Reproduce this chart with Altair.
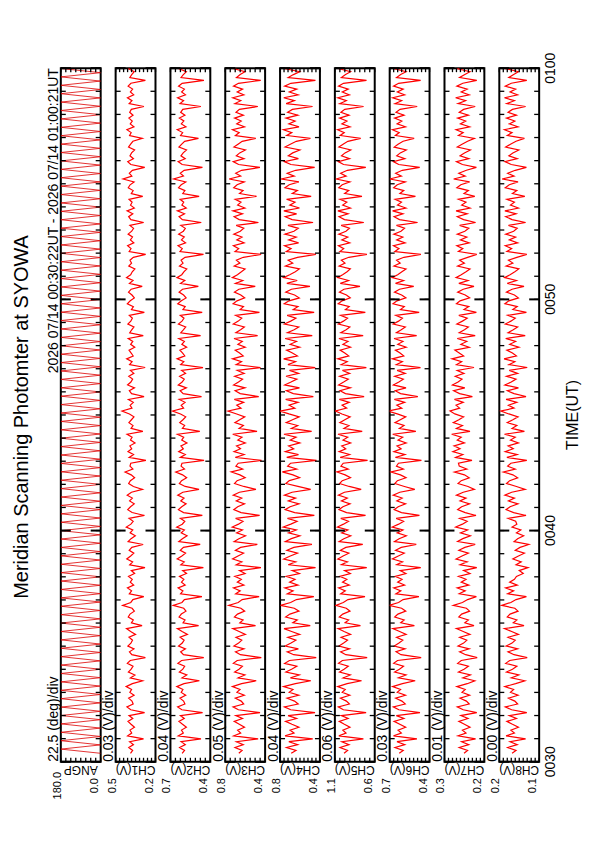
import altair as alt
import numpy as np
import pandas as pd

# ---------------- data ----------------
T_START = 30 + 22 / 60   # 00:30:22 UT, minutes after 00:00
T_END = 60 + 21 / 60     # 01:00:21 UT

names = ["ANGP", "CH1(V)", "CH2(V)", "CH3(V)", "CH4(V)", "CH5(V)", "CH6(V)", "CH7(V)", "CH8(V)"]
div_labels = ["22.5 (deg)/div", "0.03 (V)/div", "0.04 (V)/div", "0.05 (V)/div", "0.04 (V)/div",
              "0.06 (V)/div", "0.03 (V)/div", "0.01 (V)/div", "0.00 (V)/div"]
max_labels = ["180.0", "0.5", "0.7", "0.8", "0.8", "1.1", "0.7", "0.3", "0.2"]
min_labels = ["0.0", "0.2", "0.4", "0.4", "0.4", "0.6", "0.4", "0.2", "0.1"]
dom_lo = [0.0, 0.2, 0.4, 0.4, 0.4, 0.6, 0.4, 0.2, 0.1]
dom_hi = [180.0, 0.5, 0.7, 0.8, 0.8, 1.1, 0.7, 0.3, 0.2]
n_div = [8, 10, 8, 8, 10, 8, 10, 10, 10]
time_ticks = [30, 40, 50, 60]
time_labels = ["0030", "0040", "0050", "0100"]
title_text = "Meridian Scanning Photomter at SYOWA"
range_text = "2026 07/14 00:30:22UT - 2026 07/14 01:00:21UT"
axis_title = "TIME(UT)"

angp = [0, 180, 0, 180, 0, 180, 0, 180, 0, 180, 0, 180, 0, 180, 0, 180, 0, 180, 0, 180,
        0, 180, 0, 180, 0, 180, 0, 180, 0, 180, 0, 180, 0, 180, 0, 180, 0, 180, 0, 180,
        0, 180, 0, 180, 0, 180, 0, 180, 0, 180, 0, 180, 0, 180, 0, 180, 0, 180, 0, 180,
        0, 180, 0, 180, 0, 180, 0, 180, 0, 180, 0, 180, 0, 180, 0, 180, 0, 180, 0, 180,
        0, 180, 0, 180, 0, 180, 0, 180, 0, 180, 0, 180, 0, 180, 0, 180, 0, 180, 0, 180,
        0, 180, 0, 180, 0, 180, 0, 180, 0, 180, 0, 180, 0, 180, 0, 180, 0, 180, 0, 180,
        0, 180, 0, 180, 0, 180, 0, 180, 0, 180, 0, 180, 0, 180, 0, 180, 0, 180, 0, 180,
        0, 180, 0, 180, 0, 180, 0, 180, 0, 180, 0, 180, 0, 180, 0, 180, 0, 180, 0, 180,
        0, 180, 0, 180, 0, 180]

ch1_mv = [388, 372, 401, 366, 395, 290, 410, 379, 392, 358, 384, 407, 371, 399, 282, 386, 415, 368, 377, 402,
          361, 393, 380, 421, 374, 297, 389, 355, 404, 383, 369, 412, 390, 276, 378, 396, 362, 408, 385, 373,
          399, 350, 387, 418, 301, 381, 367, 405, 392, 359, 376, 447, 386, 370, 288, 397, 380, 411, 364, 390,
          375, 403, 357, 382, 279, 394, 372, 416, 387, 363, 398, 378, 293, 406, 384, 352, 391, 371, 420, 385,
          368, 399, 283, 376, 409, 388, 360, 395, 374, 413, 381, 298, 366, 402, 389, 357, 383, 429, 370, 392,
          386, 272, 398, 365, 407, 379, 393, 354, 388, 376, 414, 295, 384, 369, 400, 381, 362, 396, 452, 377,
          391, 367, 404, 286, 380, 397, 358, 410, 385, 372, 401, 363, 389, 278, 395, 376, 417, 368, 383, 399,
          356, 387, 371, 405, 292, 394, 379, 362, 408, 386, 374, 397, 284, 381, 366, 412, 390, 359, 377, 403,
          383, 300, 396, 369, 418, 387, 375, 355, 401, 380, 392, 367, 274, 398, 384, 410, 363, 389, 373, 406,
          379, 365, 393, 289, 385, 402, 371, 414, 359, 388, 376, 399, 296, 382, 368, 405, 391, 361, 444, 378,
          397, 374, 281, 386, 409, 366, 392, 380, 357, 403, 387, 370, 299, 395, 383, 415, 362, 390, 375, 400,
          369, 394, 382, 287, 398, 377, 411, 364, 389, 372, 406, 385, 276, 393, 379, 360, 402, 386, 371, 396]
ch2_mv = [612, 594, 631, 588, 620, 470, 641, 603, 617, 580, 609, 636, 596, 625, 458, 614, 646, 591, 601, 628,
          585, 619, 606, 652, 598, 482, 613, 577, 633, 607, 593, 644, 616, 449, 602, 623, 587, 639, 611, 597,
          627, 572, 612, 648, 488, 605, 590, 635, 618, 583, 600, 679, 613, 595, 463, 624, 606, 642, 589, 617,
          599, 632, 579, 608, 452, 622, 596, 649, 614, 586, 626, 602, 476, 637, 610, 575, 619, 595, 653, 611,
          592, 625, 460, 601, 640, 615, 582, 622, 598, 645, 607, 485, 589, 633, 616, 578, 609, 660, 594, 620,
          613, 447, 626, 588, 638, 603, 621, 576, 615, 600, 647, 479, 610, 593, 630, 606, 585, 624, 684, 601,
          619, 590, 634, 466, 604, 627, 580, 641, 612, 596, 631, 586, 616, 455, 623, 599, 650, 592, 608, 629,
          578, 614, 595, 637, 473, 622, 603, 585, 640, 613, 598, 626, 461, 606, 589, 645, 618, 582, 601, 635,
          609, 490, 624, 592, 651, 615, 599, 577, 632, 605, 620, 590, 451, 628, 611, 643, 586, 617, 596, 638,
          603, 588, 622, 468, 610, 635, 594, 648, 581, 614, 600, 627, 484, 607, 591, 639, 619, 584, 676, 602,
          626, 597, 459, 612, 642, 589, 621, 604, 579, 636, 615, 593, 489, 624, 608, 649, 583, 618, 599, 633,
          591, 623, 607, 471, 628, 601, 646, 587, 616, 595, 639, 612, 448, 620, 603, 580, 634, 613, 594, 625]
ch3_mv = [664, 631, 702, 619, 688, 470, 715, 645, 676, 607, 659, 710, 627, 694, 451, 668, 722, 615, 640, 699,
          609, 683, 652, 728, 636, 489, 671, 603, 706, 662, 628, 719, 680, 438, 648, 697, 612, 713, 666, 634,
          692, 598, 661, 724, 496, 654, 621, 708, 677, 605, 643, 765, 670, 630, 460, 695, 650, 717, 613, 679,
          639, 704, 601, 657, 442, 690, 633, 726, 672, 616, 698, 646, 478, 711, 663, 597, 686, 628, 730, 667,
          622, 696, 455, 641, 714, 675, 606, 689, 635, 720, 658, 492, 614, 707, 681, 600, 653, 740, 625, 693,
          670, 436, 699, 611, 712, 647, 687, 599, 674, 632, 725, 481, 661, 618, 703, 655, 604, 685, 772, 642,
          684, 615, 709, 464, 650, 701, 602, 716, 667, 626, 705, 610, 679, 446, 691, 637, 727, 620, 656, 700,
          600, 673, 629, 712, 475, 693, 646, 608, 719, 669, 634, 696, 457, 651, 617, 721, 682, 605, 644, 708,
          663, 499, 697, 624, 729, 678, 638, 601, 710, 653, 688, 619, 440, 702, 665, 718, 611, 684, 632, 714,
          649, 614, 690, 467, 660, 711, 627, 723, 603, 676, 642, 700, 486, 657, 621, 715, 681, 609, 761, 645,
          695, 636, 452, 666, 720, 612, 689, 655, 598, 713, 672, 630, 494, 698, 660, 727, 607, 685, 640, 706,
          618, 692, 658, 473, 703, 644, 724, 613, 680, 626, 717, 668, 444, 687, 650, 602, 709, 671, 633, 699]
ch4_mv = [688, 640, 735, 622, 712, 472, 750, 660, 700, 611, 681, 745, 634, 720, 449, 693, 757, 618, 655, 730,
          613, 708, 670, 765, 646, 491, 696, 607, 742, 685, 632, 754, 706, 437, 663, 728, 616, 748, 690, 641,
          722, 603, 684, 760, 497, 672, 627, 744, 701, 610, 657, 795, 694, 636, 461, 727, 669, 752, 620, 704,
          650, 739, 606, 678, 444, 718, 642, 763, 697, 624, 731, 662, 480, 747, 687, 601, 715, 637, 768, 692,
          629, 726, 456, 653, 749, 699, 609, 717, 644, 756, 680, 493, 621, 741, 707, 604, 671, 777, 633, 724,
          695, 434, 733, 615, 747, 664, 714, 602, 698, 639, 761, 483, 686, 623, 738, 675, 608, 711, 800, 652,
          709, 619, 744, 466, 667, 736, 605, 753, 690, 631, 740, 614, 705, 447, 721, 645, 764, 626, 676, 734,
          604, 699, 635, 749, 477, 725, 659, 612, 756, 693, 641, 729, 458, 668, 620, 758, 710, 607, 654, 743,
          686, 500, 732, 628, 766, 703, 647, 606, 746, 673, 719, 625, 441, 737, 689, 755, 614, 713, 638, 751,
          661, 617, 721, 469, 679, 748, 634, 762, 605, 702, 650, 735, 488, 677, 626, 751, 708, 611, 790, 658,
          728, 643, 453, 691, 757, 616, 717, 673, 601, 750, 697, 637, 495, 733, 682, 766, 610, 712, 649, 741,
          622, 724, 676, 474, 739, 656, 763, 618, 707, 632, 754, 692, 445, 718, 666, 603, 745, 696, 639, 736]
ch5_mv = [985, 940, 1035, 922, 1012, 742, 1050, 960, 1000, 911, 981, 1045, 934, 1020, 708, 993, 1057, 918, 955, 1030,
          913, 1008, 970, 1065, 946, 765, 996, 907, 1042, 985, 932, 1054, 1006, 695, 963, 1028, 916, 1048, 990, 941,
          1022, 903, 984, 1060, 779, 972, 927, 1044, 1001, 910, 957, 1088, 994, 936, 722, 1027, 969, 1052, 920, 1004,
          950, 1039, 906, 978, 700, 1018, 942, 1063, 997, 924, 1031, 962, 750, 1047, 987, 901, 1015, 937, 1068, 992,
          929, 1026, 715, 953, 1049, 999, 909, 1017, 944, 1056, 980, 770, 921, 1041, 1007, 904, 971, 1075, 933, 1024,
          995, 690, 1033, 915, 1047, 964, 1014, 902, 998, 939, 1061, 757, 986, 923, 1038, 975, 908, 1011, 1092, 952,
          1009, 919, 1044, 733, 967, 1036, 905, 1053, 990, 931, 1040, 914, 1005, 705, 1021, 945, 1064, 926, 976, 1034,
          904, 999, 935, 1049, 745, 1025, 959, 912, 1056, 993, 941, 1029, 718, 968, 920, 1058, 1010, 907, 954, 1043,
          986, 785, 1032, 928, 1066, 1003, 947, 906, 1046, 973, 1019, 925, 698, 1037, 989, 1055, 914, 1013, 938, 1051,
          961, 917, 1021, 737, 979, 1048, 934, 1062, 905, 1002, 950, 1035, 760, 977, 926, 1051, 1008, 911, 1085, 958,
          1028, 943, 712, 991, 1057, 916, 1017, 973, 901, 1050, 997, 937, 776, 1033, 982, 1066, 910, 1012, 949, 1041,
          922, 1024, 976, 740, 1039, 956, 1063, 918, 1007, 932, 1054, 992, 703, 1018, 966, 903, 1045, 996, 939, 1036]
ch6_mv = [628, 598, 660, 586, 645, 495, 671, 612, 637, 580, 624, 667, 593, 650, 472, 631, 673, 583, 608, 655,
          581, 643, 618, 678, 604, 508, 634, 577, 663, 627, 596, 670, 641, 463, 615, 652, 584, 665, 630, 601,
          648, 576, 625, 676, 514, 617, 591, 662, 638, 579, 610, 705, 633, 599, 480, 653, 616, 669, 588, 640,
          607, 659, 578, 621, 466, 647, 603, 679, 635, 590, 656, 613, 500, 664, 629, 575, 644, 600, 681, 632,
          595, 651, 476, 611, 666, 636, 580, 646, 606, 674, 624, 511, 589, 661, 642, 577, 619, 690, 597, 649,
          634, 461, 657, 585, 668, 614, 645, 576, 637, 602, 677, 503, 627, 592, 660, 620, 579, 643, 712, 609,
          646, 587, 665, 488, 618, 658, 577, 672, 631, 597, 662, 583, 644, 468, 650, 605, 680, 594, 622, 657,
          576, 639, 600, 667, 497, 649, 613, 582, 673, 633, 604, 654, 478, 619, 590, 675, 645, 578, 610, 664,
          626, 519, 656, 595, 682, 640, 608, 577, 668, 621, 648, 593, 465, 661, 630, 671, 584, 647, 601, 669,
          615, 588, 649, 490, 626, 667, 600, 678, 578, 641, 611, 659, 506, 623, 594, 670, 643, 582, 700, 612,
          655, 605, 474, 632, 672, 586, 647, 620, 575, 666, 637, 599, 516, 657, 628, 679, 581, 644, 609, 663,
          592, 652, 622, 493, 660, 610, 677, 587, 642, 598, 671, 633, 467, 648, 617, 576, 664, 636, 603, 658]
ch7_mv = [251, 242, 263, 239, 257, 222, 266, 246, 255, 236, 250, 264, 241, 259, 219, 253, 268, 238, 245, 261,
          237, 256, 248, 269, 243, 224, 254, 235, 265, 251, 240, 267, 258, 218, 247, 262, 238, 266, 252, 244,
          262, 236, 253, 270, 226, 249, 240, 264, 257, 237, 245, 278, 255, 242, 220, 263, 248, 268, 239, 258,
          246, 265, 236, 252, 219, 261, 243, 271, 256, 240, 264, 249, 223, 267, 254, 235, 260, 242, 272, 255,
          243, 262, 221, 248, 267, 257, 237, 261, 246, 270, 253, 225, 241, 266, 258, 238, 250, 275, 244, 263,
          265, 231, 272, 254, 279, 261, 276, 250, 268, 258, 282, 236, 270, 255, 278, 264, 252, 274, 286, 262,
          271, 253, 275, 230, 262, 277, 249, 280, 266, 256, 273, 251, 268, 226, 270, 257, 281, 252, 263, 274,
          238, 259, 244, 268, 223, 263, 250, 240, 269, 255, 243, 264, 220, 251, 239, 270, 261, 237, 248, 267,
          253, 226, 264, 241, 271, 258, 246, 236, 267, 250, 262, 242, 219, 265, 254, 269, 238, 260, 244, 268,
          249, 239, 262, 222, 252, 268, 243, 271, 236, 257, 246, 265, 224, 251, 240, 269, 259, 237, 277, 248,
          264, 245, 220, 255, 270, 239, 261, 250, 235, 268, 256, 242, 225, 265, 253, 271, 237, 260, 247, 267,
          240, 263, 252, 223, 266, 247, 272, 238, 258, 243, 269, 254, 219, 262, 249, 236, 267, 256, 241, 264]
ch8_mv = [168, 158, 179, 155, 173, 134, 183, 162, 171, 152, 167, 181, 157, 175, 131, 169, 185, 154, 161, 177,
          153, 172, 164, 186, 159, 136, 170, 151, 182, 167, 156, 184, 174, 130, 163, 178, 154, 183, 168, 160,
          178, 152, 169, 187, 138, 165, 156, 180, 173, 153, 161, 194, 171, 158, 132, 179, 164, 184, 155, 174,
          162, 157, 140, 150, 128, 158, 145, 166, 152, 137, 160, 148, 126, 163, 154, 139, 157, 146, 168, 156,
          159, 178, 133, 164, 183, 173, 153, 177, 162, 186, 169, 135, 157, 182, 174, 154, 166, 190, 160, 179,
          171, 131, 181, 155, 185, 165, 178, 152, 172, 160, 187, 137, 168, 156, 180, 166, 153, 176, 196, 163,
          177, 156, 183, 133, 163, 180, 152, 186, 170, 158, 182, 154, 175, 130, 176, 161, 188, 157, 167, 181,
          151, 174, 159, 184, 135, 178, 165, 154, 185, 171, 160, 179, 132, 166, 155, 186, 176, 152, 162, 182,
          168, 138, 180, 157, 187, 173, 161, 151, 183, 166, 177, 156, 131, 181, 169, 185, 154, 175, 159, 184,
          164, 155, 177, 134, 168, 184, 158, 186, 152, 172, 162, 181, 136, 167, 156, 185, 175, 153, 193, 163,
          179, 160, 132, 170, 186, 155, 176, 166, 151, 184, 172, 158, 137, 180, 168, 187, 153, 175, 161, 182,
          157, 178, 167, 134, 181, 162, 187, 154, 173, 159, 185, 170, 131, 176, 164, 152, 183, 171, 158, 180]

series = [angp] + [[v / 1000 for v in s] for s in
                   [ch1_mv, ch2_mv, ch3_mv, ch4_mv, ch5_mv, ch6_mv, ch7_mv, ch8_mv]]

# ---------------- layout ----------------
W, H = 40, 696
FONT = "Liberation Sans"

minute_df = pd.DataFrame({"t": list(range(30, 61))})
major_df = pd.DataFrame({"t": time_ticks})
time_lab_df = pd.DataFrame({"t": time_ticks, "lab": time_labels})


def panel(i):
    vals = series[i]
    df = pd.DataFrame({"t": np.linspace(T_START, T_END, len(vals)), "v": vals})
    xs = alt.Scale(domain=[dom_lo[i], dom_hi[i]], reverse=True, zero=False, nice=False)
    ys = alt.Scale(domain=[30, 60], zero=False, nice=False)
    X = alt.X("v:Q", scale=xs, axis=None)
    Y = alt.Y("t:Q", scale=ys, axis=None)

    line = alt.Chart(df).mark_line(
        color="#ff0000" if i else "#dd0000", strokeWidth=1.2 if i else 0.8, clip=True
    ).encode(x=X, y=Y, order=alt.Order("t:Q"))

    tick_style = dict(color="black", strokeWidth=1.3)
    m_l = alt.Chart(minute_df).mark_rule(**tick_style).encode(y=Y, x=alt.value(0), x2=alt.value(5))
    m_r = alt.Chart(minute_df).mark_rule(**tick_style).encode(y=Y, x=alt.value(W), x2=alt.value(W - 5))
    M_l = alt.Chart(major_df).mark_rule(color="black", strokeWidth=2).encode(y=Y, x=alt.value(0), x2=alt.value(10))
    M_r = alt.Chart(major_df).mark_rule(color="black", strokeWidth=2).encode(y=Y, x=alt.value(W), x2=alt.value(W - 10))

    vt_df = pd.DataFrame({"v": np.linspace(dom_lo[i], dom_hi[i], n_div[i] + 1)})
    v_top = alt.Chart(vt_df).mark_rule(**tick_style).encode(x=X, y=alt.value(0), y2=alt.value(4))
    v_bot = alt.Chart(vt_df).mark_rule(**tick_style).encode(x=X, y=alt.value(H), y2=alt.value(H - 4))

    lab_df = pd.DataFrame({"name": [names[i]], "div": [div_labels[i]],
                           "mx": [max_labels[i]], "mn": [min_labels[i]]})
    base = alt.Chart(lab_df)
    name_t = base.mark_text(angle=180, fontSize=12, align="center", baseline="alphabetic",
                            font=FONT, color="black").encode(
        text="name:N", x=alt.value(W / 2), y=alt.value(H + 4))
    div_t = base.mark_text(angle=270, fontSize=14, align="left", baseline="alphabetic",
                           font=FONT, color="black").encode(
        text="div:N", x=alt.value(-2.5), y=alt.value(H))
    mx_t = base.mark_text(angle=270, fontSize=11, align="center", baseline="alphabetic",
                          font=FONT, color="black").encode(
        text="mx:N", x=alt.value(0), y=alt.value(H + 24))
    mn_t = base.mark_text(angle=270, fontSize=11, align="center", baseline="alphabetic",
                          font=FONT, color="black").encode(
        text="mn:N", x=alt.value(W - 3), y=alt.value(H + 24))

    layers = [line, m_l, m_r, M_l, M_r, v_top, v_bot, name_t, div_t, mx_t, mn_t]

    if i == 0:
        hdr = alt.Chart(pd.DataFrame({"title": [title_text], "rng": [range_text]}))
        layers.append(hdr.mark_text(angle=270, fontSize=20, align="center", baseline="alphabetic",
                                    font=FONT, color="black").encode(
            text="title:N", x=alt.value(-33), y=alt.value(H / 2 + 2)))
        layers.append(hdr.mark_text(angle=270, fontSize=14, align="right", baseline="alphabetic",
                                    font=FONT, color="black").encode(
            text="rng:N", x=alt.value(-2.5), y=alt.value(0)))
    if i == len(names) - 1:
        layers.append(alt.Chart(time_lab_df).mark_text(
            angle=270, fontSize=14, align="center", baseline="top", font=FONT, color="black"
        ).encode(text="lab:N", y=Y, x=alt.value(W + 5)))
        layers.append(alt.Chart(pd.DataFrame({"a": [axis_title]})).mark_text(
            angle=270, fontSize=16, align="center", baseline="top", font=FONT, color="black"
        ).encode(text="a:N", x=alt.value(W + 26), y=alt.value(H / 2)))

    return alt.layer(*layers).properties(width=W, height=H)


chart = alt.hconcat(*[panel(i) for i in range(len(names))], spacing=15, bounds="flush").properties(
    padding={"left": 3, "top": 42, "right": 5, "bottom": 5}
).configure_view(stroke="black", strokeWidth=2).configure_text(font=FONT)

chart.save("out.html", embed_options={"renderer": "svg", "actions": False})
